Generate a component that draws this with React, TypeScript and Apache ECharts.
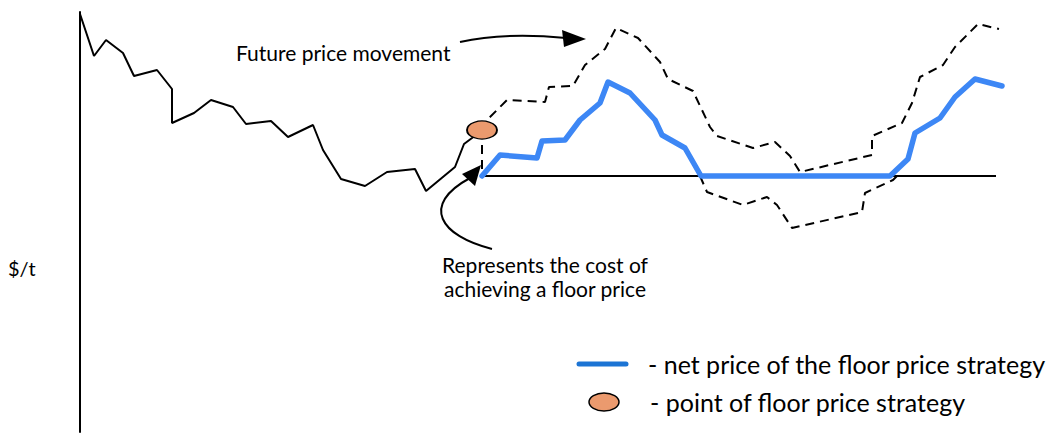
import React, { useEffect, useRef } from "react";
import * as echarts from "echarts";

// x: time (arbitrary units), y: price ($/t, arbitrary units)
const historyPrice: [number, number][] = [
  [0, 418], [14, 376], [26, 392], [43, 379], [54, 356], [77, 362], [92, 343], [92, 309],
  [114, 319], [131, 332], [153, 325], [166, 308], [191, 311], [208, 295], [233, 307],
  [243, 282], [261, 253], [285, 246], [307, 260], [335, 263], [346, 241], [375, 265],
  [384, 288], [392, 294], [402, 302],
];
const futurePrice: [number, number][] = [
  [402, 302], [409, 314], [427, 332], [465, 330], [469, 345], [493, 346], [505, 367],
  [525, 383], [536, 404], [558, 394], [580, 370], [588, 353], [613, 341], [630, 305],
  [637, 296], [673, 284], [695, 290], [710, 276], [720, 260], [792, 277], [792, 296],
  [822, 309], [832, 329], [840, 355], [863, 367], [875, 385], [898, 408], [919, 403],
];
const costOfFloor: [number, number][] = [[402, 287], [402, 256]];
const futureLessCost: [number, number][] = [
  [620, 256], [627, 240], [663, 227], [687, 235], [697, 227], [712, 204], [782, 220],
  [785, 239], [813, 252], [817, 256],
];
const netPrice: [number, number][] = [
  [402, 256], [420, 277], [457, 274], [462, 291], [485, 292], [500, 312], [520, 329],
  [528, 350], [550, 339], [575, 312], [582, 297], [605, 284], [621, 256], [810, 256],
  [828, 273], [835, 299], [860, 314], [875, 335], [895, 353], [922, 346],
];
const floorPrice: [number, number][] = [[402, 256], [916, 256]];
const floorPoint: [number, number][] = [[402, 302]];

const labels = {
  yAxis: "$/t",
  future: "Future price movement",
  cost1: "Represents the cost of",
  cost2: "achieving a floor price",
  legendNet: "- net price of the floor price strategy",
  legendPoint: "- point of floor price strategy",
};

const FONT = "Lato, 'Open Sans', sans-serif";
const BLUE = "#3d87f5";
const ORANGE = "#eb9a6e";

export default function App() {
  const ref = useRef<HTMLDivElement>(null);
  useEffect(() => {
    document.body.style.margin = "0";
    if (!ref.current) return;
    const chart = echarts.init(ref.current, undefined, { renderer: "svg" });
    const dashed = { color: "#000", width: 2, type: [9, 6] as any };
    chart.setOption({
      animation: false,
      backgroundColor: "#fff",
      grid: { left: 80, right: 0, top: 12, bottom: 5 },
      xAxis: {
        type: "value", min: 0, max: 974,
        show: false,
      },
      yAxis: {
        type: "value", min: 0, max: 420,
        axisLine: { show: true, lineStyle: { color: "#000", width: 2 } },
        axisTick: { show: false },
        axisLabel: { show: false },
        splitLine: { show: false },
      },
      series: [
        { type: "line", data: historyPrice, symbol: "none", lineStyle: { color: "#000", width: 2 }, z: 2 },
        { type: "line", data: futurePrice, symbol: "none", lineStyle: dashed, z: 2 },
        { type: "line", data: costOfFloor, symbol: "none", lineStyle: dashed, z: 2 },
        { type: "line", data: futureLessCost, symbol: "none", lineStyle: dashed, z: 2 },
        { type: "line", data: floorPrice, symbol: "none", lineStyle: { color: "#000", width: 2 }, z: 3 },
        {
          type: "line", data: netPrice, symbol: "none",
          lineStyle: { color: BLUE, width: 5.5, cap: "round", join: "round" }, z: 4,
        },
        {
          type: "scatter", data: floorPoint, symbol: "circle", symbolSize: [30, 18],
          itemStyle: { color: ORANGE, borderColor: "#000", borderWidth: 1.5, opacity: 1 }, z: 5,
        },
      ],
      graphic: [
        { type: "text", x: 8, y: 268, style: { text: labels.yAxis, font: `20px ${FONT}`, fill: "#000", verticalAlign: "middle" } },
        { type: "text", x: 236, y: 52, style: { text: labels.future, font: `21px ${FONT}`, fill: "#000", verticalAlign: "middle" } },
        {
          type: "bezierCurve",
          shape: { x1: 460, y1: 42, cpx1: 505, cpy1: 32, x2: 566, y2: 38 },
          style: { stroke: "#000", lineWidth: 2, fill: "none" },
        },
        { type: "polygon", shape: { points: [[586, 39], [562, 30], [564, 47]] }, style: { fill: "#000" } },
        {
          type: "bezierCurve",
          shape: { x1: 492, y1: 249, cpx1: 440, cpy1: 236, cpx2: 420, cpy2: 205, x2: 470, y2: 178 },
          style: { stroke: "#000", lineWidth: 2, fill: "none" },
        },
        { type: "polygon", shape: { points: [[481, 165], [462, 174], [475, 186]] }, style: { fill: "#000" } },
        { type: "text", x: 545, y: 264, style: { text: labels.cost1, font: `21px ${FONT}`, fill: "#000", align: "center", verticalAlign: "middle" } },
        { type: "text", x: 545, y: 288, style: { text: labels.cost2, font: `21px ${FONT}`, fill: "#000", align: "center", verticalAlign: "middle" } },
        { type: "line", shape: { x1: 579, y1: 364, x2: 626, y2: 364 }, style: { stroke: "#1c74d4", lineWidth: 5, lineCap: "round" } },
        { type: "text", x: 648, y: 364, style: { text: labels.legendNet, font: `25px ${FONT}`, fill: "#000", verticalAlign: "middle" } },
        { type: "ellipse", shape: { cx: 604, cy: 402, rx: 15, ry: 9 }, style: { fill: ORANGE, stroke: "#000", lineWidth: 1.5 } },
        { type: "text", x: 650, y: 402, style: { text: labels.legendPoint, font: `25px ${FONT}`, fill: "#000", verticalAlign: "middle" } },
      ],
    });
    return () => chart.dispose();
  }, []);
  return <div ref={ref} style={{ width: 1054, height: 437 }} />;
}
